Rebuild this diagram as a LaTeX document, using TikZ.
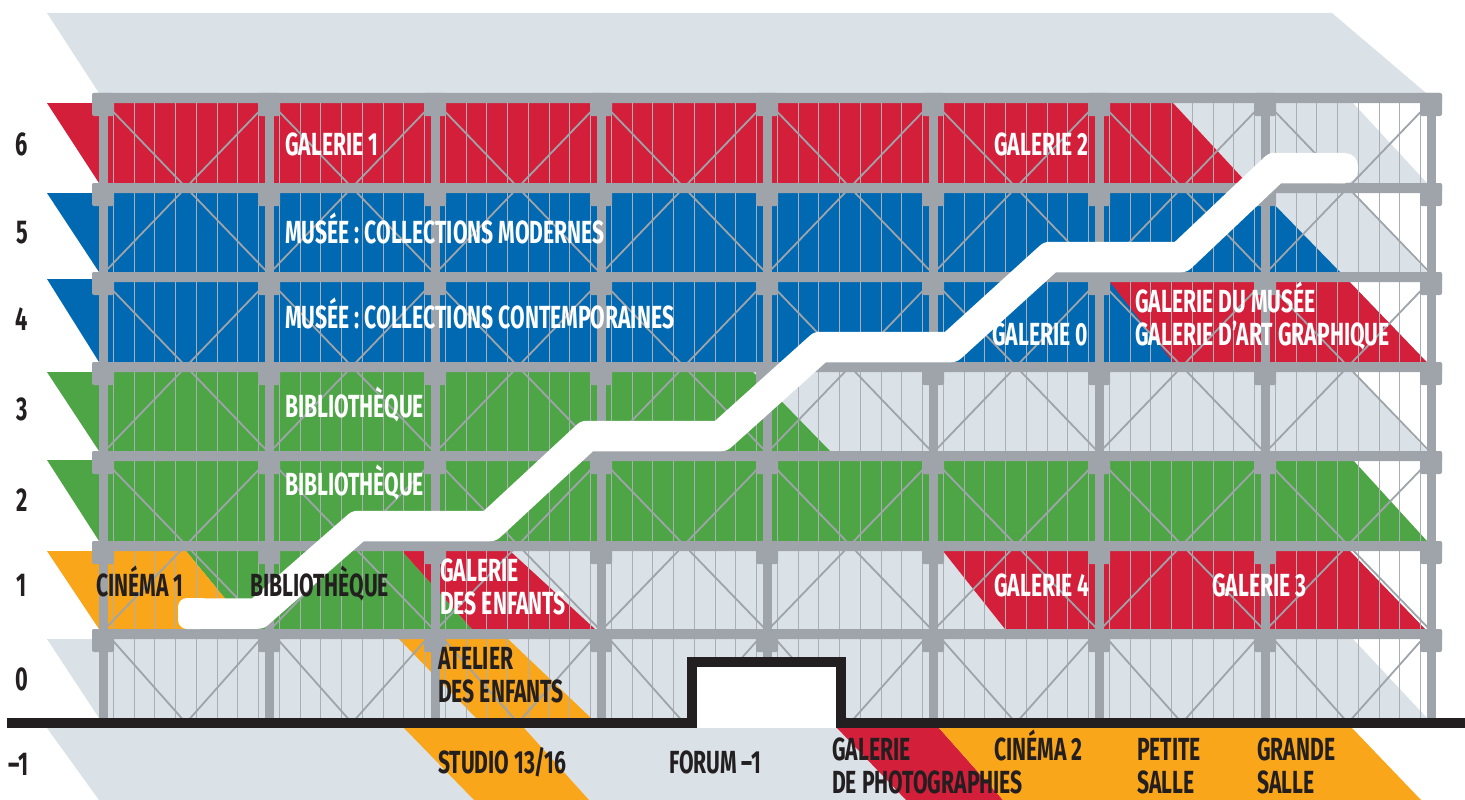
\documentclass[tikz,border=0pt]{standalone}
\usepackage{fontspec}
\newfontfamily\din[FakeStretch=0.66]{Fira Sans}
\definecolor{cgrey}{HTML}{DAE1E7}
\definecolor{cred}{HTML}{D31F3A}
\definecolor{cblue}{HTML}{0069B2}
\definecolor{cgreen}{HTML}{4EA546}
\definecolor{corange}{HTML}{FAA61A}
\definecolor{csteel}{HTML}{9EA4AA}
\definecolor{cthin}{HTML}{A9AFB5}
\definecolor{cink}{HTML}{231F20}
\newcommand{\band}[7]{\fill[#1] (#2,#6) -- (#3,#6) -- (#4,#7) -- (#5,#7) -- cycle;}
\tikzset{
  lab/.style={anchor=base west,inner sep=0pt,font=\din\bfseries\fontsize{32}{33}\selectfont,text=cink},
  labw/.style={lab,text=white},
  num/.style={anchor=base,inner sep=0pt,font=\din\bfseries\fontsize{33}{33}\selectfont,text=cink},
}
\begin{document}
\begin{tikzpicture}[x=1pt,y=-1pt]
\useasboundingbox (0,0) rectangle (1465,800);
% bands: colour, top-left, top-right, bottom-right, bottom-left, ytop, ybot
\band{cgrey}{47}{1332}{1426}{99}{13}{93}
% row 6
\band{cgrey}{47}{1353}{1427}{99}{103}{183}
\band{cred}{47}{1173}{1247}{99}{103}{183}
% row 5
\band{cgrey}{47}{1353}{1427}{99}{193}{272}
\band{cblue}{47}{1263}{1340}{99}{193}{272}
% row 4
\band{cblue}{47}{1350}{1427}{99}{279}{362}
\band{cred}{1110}{1350}{1427}{1173}{282}{362}
\fill[white] (1350,282) -- (1465,282) -- (1465,362) -- (1427,362) -- cycle;
% row 3
\band{cgrey}{47}{1353}{1427}{99}{372}{451}
\band{cgreen}{47}{753}{830}{99}{372}{451}
% row 2
\band{cgreen}{47}{1353}{1427}{99}{460}{541}
% row 1
\band{cgrey}{402}{1350}{1425}{472}{551}{629}
\band{cgreen}{186}{402}{472}{250}{551}{629}
\band{corange}{47}{186}{250}{99}{551}{629}
\band{cred}{402}{510}{595}{472}{551}{629}
\band{cred}{943}{1350}{1425}{1005}{551}{629}
% row 0
\band{cgrey}{47}{1353}{1427}{99}{639}{718}
\band{corange}{399}{508}{591}{476}{639}{718}
% row -1
\band{cgrey}{47}{837}{906}{99}{728}{800}
\band{corange}{404}{524}{589}{474}{728}{800}
\band{cred}{837}{939}{1003}{906}{728}{800}
\band{corange}{939}{1352}{1421}{1003}{728}{800}
% thin verticals
\foreach \c in {103,269,435,601,767,933,1099,1265}{
  \foreach \k in {0,...,7}{
    \draw[cthin,line width=1pt] ({\c+10.5+20.7*\k},100) -- ({\c+10.5+20.7*\k},720);
  }
}
% diagonals
\foreach \c in {186,352,518,684,850,1016,1182,1348}{
  \foreach \t/\b in {98/277,277/456,456/634}{
    \draw[csteel,line width=1.8pt] ({\c-86},\b) -- ({\c+86},\t);
    \draw[csteel,line width=1.8pt] ({\c-86},\t) -- ({\c+86},\b);
  }
  \draw[csteel,line width=1.8pt] ({\c-79},634) -- (\c,723) -- ({\c+79},634);
}
% columns
\foreach \c in {103,269,435,601,767,933,1099,1265,1431}{
  \fill[csteel] ({\c-4.5},95) rectangle ({\c+4.5},720);
  \foreach \y in {93,183,272,362,451,541,629}{
    \fill[csteel,rounded corners=2pt] ({\c-11},\y) rectangle ({\c+11},{\y+23});
  }
}
% beams
\foreach \y in {93,183,272,362,451,541,629}{
  \fill[csteel,rounded corners=2pt] (92,\y) rectangle (1442,{\y+10});
}
% ground with Forum box
\fill[white] (691,662) rectangle (841,728);
\draw[cink,line width=10pt] (7,723) -- (691.5,723) -- (691.5,662) -- (841,662) -- (841,723) -- (1465,723);
% white route
\draw[white,line width=30.5pt,line join=round]
  (190,613.5) -- (258,613.5) -- (358,526) -- (490,526) -- (587,436) -- (721,436)
  -- (820,347) -- (951,347) -- (1050,257) -- (1181,257) -- (1275,168) -- (1345,168);
\fill[white,rounded corners=9pt] (178,598) rectangle (210,629);
\fill[white,rounded corners=13pt] (1320,153) rectangle (1358,183);
% level numbers
\node[num] (n6) at (22,155) {6};
\node[num] (n5) at (22,243) {5};
\node[num] (n4) at (22,330) {4};
\node[num] (n3) at (22,420) {3};
\node[num] (n2) at (22,511) {2};
\node[num] (n1) at (22,596) {1};
\node[num] (n0) at (22,690) {0};
\node[num] (nm) at (18.5,775) {–1};
% labels
\node[labw] (a1) at (285,155) {GALERIE 1};
\node[labw] (a2) at (994,155) {GALERIE 2};
\node[labw] (a3) at (285,243) {MUSÉE : COLLECTIONS MODERNES};
\node[labw] (a4) at (285,328) {MUSÉE : COLLECTIONS CONTEMPORAINES};
\node[labw] (a5) at (992,345) {GALERIE 0};
\node[labw] (a6) at (1135,312) {GALERIE DU MUSÉE};
\node[labw] (a7) at (1135,345) {GALERIE D’ART GRAPHIQUE};
\node[labw] (a8) at (285,417) {BIBLIOTHÈQUE};
\node[labw] (a9) at (285,495) {BIBLIOTHÈQUE};
\node[lab] (b1) at (96,596) {CINÉMA 1};
\node[lab] (b2) at (250,596) {BIBLIOTHÈQUE};
\node[labw] (b3) at (440,581) {GALERIE};
\node[labw] (b4) at (440,614) {DES ENFANTS};
\node[labw] (b5) at (994,596) {GALERIE 4};
\node[labw] (b6) at (1212,596) {GALERIE 3};
\node[lab] (c1) at (438,669) {ATELIER};
\node[lab] (c2) at (438,702) {DES ENFANTS};
\node[lab] (d1) at (438,773) {STUDIO 13/16};
\node[lab] (d2) at (669,773) {FORUM –1};
\node[lab] (d3) at (832,760) {GALERIE};
\node[lab] (d4) at (832,793) {DE PHOTOGRAPHIES};
\node[lab] (d5) at (994,760) {CINÉMA 2};
\node[lab] (d6) at (1137,760) {PETITE};
\node[lab] (d7) at (1137,793) {SALLE};
\node[lab] (d8) at (1257,760) {GRANDE};
\node[lab] (d9) at (1257,793) {SALLE};
\end{tikzpicture}
\end{document}
